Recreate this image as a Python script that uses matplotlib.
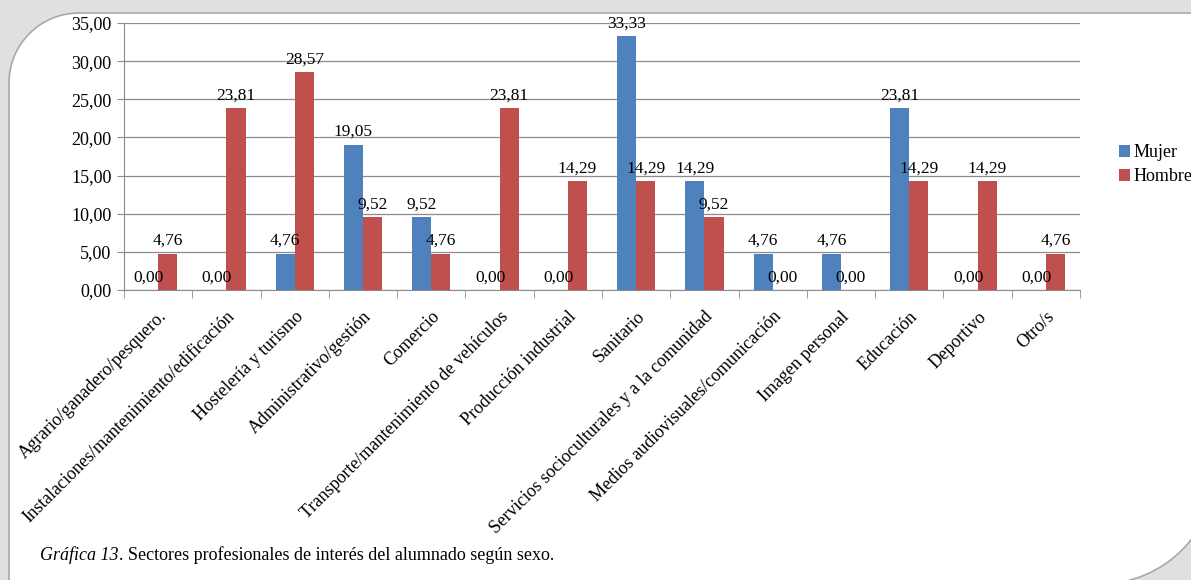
import numpy as np
import matplotlib
matplotlib.use("Agg")
import matplotlib.pyplot as plt
from matplotlib.path import Path
from matplotlib.patches import PathPatch
from matplotlib.ticker import FuncFormatter, MultipleLocator

plt.rcParams['font.family'] = ['Liberation Serif', 'DejaVu Serif']

sectores = ["Agrario/ganadero/pesquero.",
            "Instalaciones/mantenimiento/edificación",
            "Hostelería y turismo",
            "Administrativo/gestión",
            "Comercio",
            "Transporte/mantenimiento de vehículos",
            "Producción industrial",
            "Sanitario",
            "Servicios socioculturales y a la comunidad",
            "Medios audiovisuales/comunicación",
            "Imagen personal",
            "Educación",
            "Deportivo",
            "Otro/s"]
mujer = [0.00, 0.00, 4.76, 19.05, 9.52, 0.00, 0.00, 33.33, 14.29, 4.76, 4.76, 23.81, 0.00, 0.00]
hombre = [4.76, 23.81, 28.57, 9.52, 4.76, 23.81, 14.29, 14.29, 9.52, 0.00, 0.00, 14.29, 14.29, 4.76]
series = ["Mujer", "Hombre"]
colores = ["#4F81BD", "#C0504D"]

W, H = 1191, 580
fig = plt.figure(figsize=(W / 100, H / 100), dpi=100, facecolor="#e0e0e0")

# white "page" card, rounded top-left and bottom-right corners (pixel coords)
def px(x, y):
    return (x / W, 1 - y / H)

k = 0.5523
x0, y0, r1 = 9, 13, 70
xr, yb, r2 = 1216, 584, 116
verts = [px(x0, yb + 20), px(x0, y0 + r1),
         px(x0, y0 + r1 - k * r1), px(x0 + r1 - k * r1, y0), px(x0 + r1, y0),
         px(xr, y0), px(xr, yb - r2),
         px(xr, yb - r2 + k * r2), px(xr - r2 + k * r2, yb), px(xr - r2, yb),
         px(x0, yb + 20)]
codes = [Path.MOVETO, Path.LINETO,
         Path.CURVE4, Path.CURVE4, Path.CURVE4,
         Path.LINETO, Path.LINETO,
         Path.CURVE4, Path.CURVE4, Path.CURVE4,
         Path.CLOSEPOLY]
card = PathPatch(Path(verts, codes), transform=fig.transFigure, facecolor="white",
                 edgecolor="#a8a8a8", linewidth=1.2, zorder=-5)
fig.patches.append(card)

ax = fig.add_axes([124 / W, 0.5, (1080 - 124) / W, (290 - 23) / H])
ax.set_facecolor("none")
ax.set_zorder(2)

x = np.arange(len(sectores))
w = 0.28
for i, (vals, nombre, col) in enumerate(zip([mujer, hombre], series, colores)):
    pos = x + (i - 0.5) * w
    ax.bar(pos, vals, width=w, color=col, label=nombre, zorder=3)
    for p, v in zip(pos, vals):
        ax.text(p, v + 0.6, f"{v:.2f}".replace(".", ","), ha="center", va="bottom",
                fontsize=12.5, zorder=4)

ax.set_xlim(-0.5, len(sectores) - 0.5)
ax.set_ylim(0, 35)
ax.yaxis.set_major_locator(MultipleLocator(5))
ax.yaxis.set_major_formatter(FuncFormatter(lambda v, _: f"{v:.2f}".replace(".", ",")))
ax.grid(axis="y", color="#8c8c8c", linewidth=0.9, zorder=0)
ax.set_axisbelow(True)
for s in ["top", "right"]:
    ax.spines[s].set_visible(False)
for s in ["left", "bottom"]:
    ax.spines[s].set_color("#8c8c8c")
ax.tick_params(axis="y", labelsize=13, length=5, color="#8c8c8c", pad=4)

# category labels at centres, ticks at boundaries (Excel style)
ax.set_xticks(x)
ax.set_xticklabels(sectores, rotation=45, ha="right", rotation_mode="anchor", fontsize=13)
ax.tick_params(axis="x", which="major", length=0, pad=13)
ax.set_xticks(np.arange(-0.5, len(sectores)), minor=True)
ax.tick_params(axis="x", which="minor", length=6, color="#8c8c8c")

ax.legend(loc="upper left", bbox_to_anchor=(1112 / W, 1 - 137 / H),
          bbox_transform=fig.transFigure, frameon=False, fontsize=13,
          handlelength=0.6, handleheight=0.6, handletextpad=0.2, labelspacing=0.4,
          borderaxespad=0)

# caption: italic part followed by regular text
t1 = fig.text(40 / W, 1 - 560 / H, "Gráfica 13", fontsize=13, style="italic", va="baseline")
fig.canvas.draw()
bb = t1.get_window_extent()
fig.text(bb.x1 / W, 1 - 560 / H,
         ". Sectores profesionales de interés del alumnado según sexo.",
         fontsize=13, va="baseline")

fig.savefig("out.png", dpi=100, facecolor=fig.get_facecolor())
